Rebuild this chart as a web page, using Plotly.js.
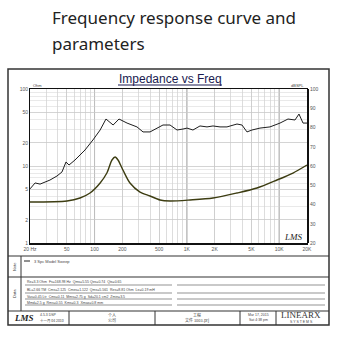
<!DOCTYPE html>
<html><head><meta charset="utf-8">
<script src="https://cdn.plot.ly/plotly-3.0.1.min.js"></script>
<style>html,body{margin:0;padding:0;background:#fff}#chart{width:340px;height:340px}</style>
</head><body><div id="chart"></div>
<script>
// ---- data ----
const splFreq = [20,22.7,25.7,30.6,32.9,39.2,44.4,49.1,52.9,61.4,69.6,78.8,96,115,133,159,184,225,288,335,399,475,551,657,782,908,1003,1164,1387,1652,1918,2285,2719,3490,3952,4478,5072,6192,7943,10209,12445,14826,16372,18113,20000];
const splDb   = [48.1,51.2,50.6,52.2,52.7,54.8,56.9,62.1,60.5,63.1,65.7,68.3,73.5,78.7,84.4,81.3,84.4,82.3,80.3,77.7,77.7,79.7,81.3,81.3,78.7,79.2,79.7,78.7,80.8,80.3,80.8,80.3,80.3,81.8,81.3,77.7,78.7,79.7,80.3,82.3,84.4,83.9,87.0,82.3,82.3];
const impFreq = [20,50.3,69.6,89.3,115,136,154.5,167,179.6,203,242,311,399,512,657,1081,1918,3490,5742,9460,14094,20000];
const impOhm  = [3.41,3.51,3.84,4.46,6.02,8.11,11.97,13.1,11.97,8.87,6.02,4.59,4.08,3.62,3.51,3.62,3.84,4.46,5.18,6.58,8.11,10.3];
const xTickVals = [20,50,100,200,500,1000,2000,5000,10000,20000];
const xTickText = ["20 Hz","50","100","200","500","1K","2K","5K","10K","20K"];
const yTickVals = [1,2,5,10,20,50,100];
const yTickText = ["1","2","5","10","20","50","100"];
const y2TickVals = [20,30,40,50,60,70,80,90,100];
const decades = [100,1000,10000];

// ---- layout helpers (pixel -> paper) ----
const L=30,R=307,T=89,B=243;
const px = x => (x-L)/(R-L);
const py = y => (B-y)/(B-T);
const line = (x0,y0,x1,y1,c,w) => ({type:'line',xref:'paper',yref:'paper',x0:px(x0),y0:py(y0),x1:px(x1),y1:py(y1),line:{color:c,width:w}});
const txt = (x,y,s,size,opts) => Object.assign({xref:'paper',yref:'paper',x:px(x),y:py(y),text:s,showarrow:false,font:{size:size,color:'#444',family:'Liberation Sans, Arial'},xanchor:'left',yanchor:'middle'},opts||{});

const shapes = [
  {type:'rect',xref:'paper',yref:'paper',x0:px(8),y0:py(69),x1:px(329),y1:py(325),line:{color:'#333',width:1.5}},
  line(8,256,329,256,'#333',1.2),
  line(8,277,329,277,'#333',1.2),
  line(8,311,329,311,'#333',1.2),
  line(21,256,21,311,'#333',1),
  line(69,311,69,325,'#333',1),
  line(155,311,155,325,'#333',1),
  line(240,311,240,325,'#333',1),
  line(276,311,276,325,'#333',1),
  line(25,285,172,285,'#666',0.7), line(177,285,325,285,'#666',0.7),
  line(25,293,172,293,'#666',0.7), line(177,293,325,293,'#666',0.7),
  line(25,299,172,299,'#666',0.7), line(177,299,325,299,'#666',0.7),
  line(25,305,172,305,'#666',0.7), line(177,305,325,305,'#666',0.7),
  line(24,261,30,261,'#222',1),
  line(118,85,222,85,'#1a1a50',1)
];
decades.forEach(d=>shapes.push({type:'line',xref:'x',yref:'paper',x0:d,x1:d,y0:0,y1:1,line:{color:'#8e8e8e',width:1},layer:'below'}));

const annotations = [
  txt(50,18,'Frequency response curve and',17,{font:{size:17,color:'#222',family:'Noto Sans'}}),
  txt(50,43,'parameters',17,{font:{size:17,color:'#222',family:'Noto Sans'}}),
  txt(170,79,'Impedance vs Freq',12,{xanchor:'center',font:{size:12,color:'#1a1a50',family:'Liberation Sans, Arial'}}),
  txt(31,85,'Ohm',4,{}),
  txt(306,85,'dBSPL',4,{xanchor:'right'}),
  txt(282,237,'<i>LMS</i>',9,{font:{size:9,color:'#222',family:'Liberation Serif'}}),
  txt(14,267,'Note',4,{xanchor:'center',textangle:-90}),
  txt(14,294,'Data',4,{xanchor:'center',textangle:-90}),
  txt(32,261,'3 Spc Model Sweep',4),
  txt(25,282,'Re=3.3 Ohm  Fs=168.98 Hz  Qms=5.55 Qes=0.74  Qts=0.65',3.5),
  txt(25,290,'BL=2.66 TM  Cms=2.125  Cmes=1.122  Qms=5.561  Res=8.81 Ohm  Le=0.19 mH',3.5),
  txt(25,297,'Vas=0.45 Ltr  Cms=0.11  Mms=2.75 g  Sd=20.1 cm2  Zmin=3.5',3.5),
  txt(25,303,'Mmd=2.5 g  Rms=0.55  Kms=0.3  Xmax=0.8 mm',3.5),
  txt(12,318,'<i><b>LMS</b></i>',9,{font:{size:9,color:'#222',family:'Liberation Serif'}}),
  txt(38,315,'4.5.3 DSP',3.5),
  txt(38,320,'十一月 04 2010',3.5,{font:{size:3.5,color:'#444',family:'Noto Sans CJK SC'}}),
  txt(112,315,'个人',4,{xanchor:'center',font:{size:4,color:'#444',family:'Noto Sans CJK SC'}}),
  txt(112,320,'公司',4,{xanchor:'center',font:{size:4,color:'#444',family:'Noto Sans CJK SC'}}),
  txt(197,315,'工程',4,{xanchor:'center',font:{size:4,color:'#444',family:'Noto Sans CJK SC'}}),
  txt(197,320,'文件 1003.prj',4,{xanchor:'center',font:{size:4,color:'#444',family:'Noto Sans CJK SC'}}),
  txt(258,315,'Mar 17, 2015',3.5,{xanchor:'center'}),
  txt(258,320,'Sat 4:38 pm',3.5,{xanchor:'center'}),
  txt(301,315,'LINEARX',9,{xanchor:'center',font:{size:9,color:'#333',family:'Liberation Serif'}}),
  txt(301,322,'S Y S T E M S',3.5,{xanchor:'center'})
];

const traces = [
  {x:impFreq,y:impOhm,type:'scatter',mode:'lines',line:{color:'#3d3d12',width:1.4,shape:'spline',smoothing:0.8},yaxis:'y',hoverinfo:'skip'},
  {x:splFreq,y:splDb,type:'scatter',mode:'lines',line:{color:'#1e1e1e',width:1},yaxis:'y2',hoverinfo:'skip'}
];

const tickFont = {size:5,color:'#555',family:'Liberation Sans, Arial'};
const layout = {
  width:340,height:340,
  margin:{l:L,r:340-R,t:T,b:340-B},
  paper_bgcolor:'#fff',plot_bgcolor:'#fff',
  showlegend:false,
  xaxis:{type:'log',range:[Math.log10(20),Math.log10(20000)],tickmode:'array',tickvals:xTickVals,ticktext:xTickText,
    tickfont:tickFont,ticks:'',showgrid:true,gridcolor:'#c6c6c6',gridwidth:0.6,
    minor:{dtick:'D1',showgrid:true,gridcolor:'#c6c6c6',gridwidth:0.6},
    showline:true,linecolor:'#111',linewidth:1.5,mirror:true,zeroline:false,fixedrange:true},
  yaxis:{type:'log',range:[0,2],tickmode:'array',tickvals:yTickVals,ticktext:yTickText,tickfont:tickFont,ticks:'',
    showgrid:true,gridcolor:'#c6c6c6',gridwidth:0.6,
    minor:{dtick:'D1',showgrid:true,gridcolor:'#d4d4d4',gridwidth:0.5},
    showline:true,linecolor:'#111',linewidth:1,mirror:true,zeroline:false,fixedrange:true},
  yaxis2:{overlaying:'y',side:'right',range:[20,100],tickmode:'array',tickvals:y2TickVals,tickfont:tickFont,ticks:'',
    showgrid:false,showline:true,linecolor:'#111',linewidth:2,zeroline:false,fixedrange:true},
  shapes:shapes,
  annotations:annotations
};
Plotly.newPlot('chart',traces,layout,{staticPlot:true,displayModeBar:false});
</script></body></html>
